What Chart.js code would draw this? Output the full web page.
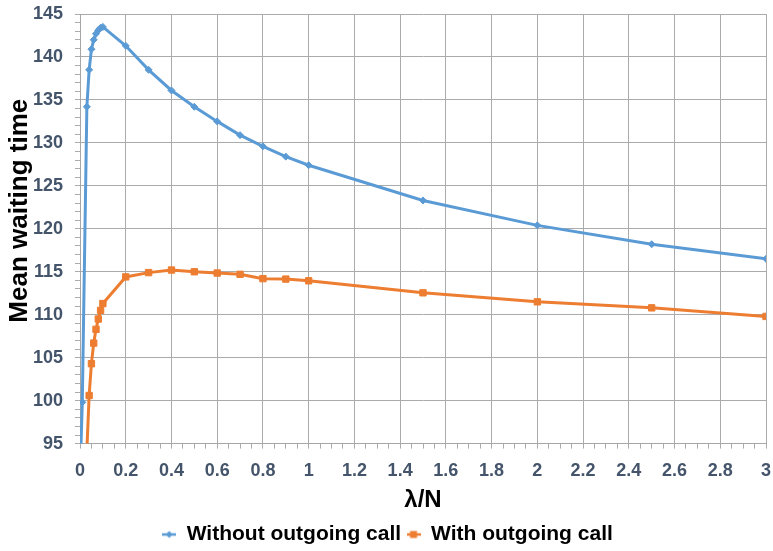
<!DOCTYPE html>
<html>
<head>
<meta charset="utf-8">
<script src="https://cdn.jsdelivr.net/npm/chart.js@4"></script>
<style>
html,body{margin:0;padding:0;background:#fff;}
</style>
</head>
<body>
<canvas id="line-chart" width="773" height="551"></canvas>
<script>
// lambda/N values (x) and mean waiting time for the two cases
var lambdaN = [0, 0.01, 0.03, 0.04, 0.05, 0.06, 0.07, 0.08, 0.09, 0.1, 0.2, 0.3, 0.4, 0.5, 0.6, 0.7, 0.8, 0.9, 1, 1.5, 2, 2.5, 3]
var withoutOutgoing = [91, 99.8, 134.2, 138.5, 140.9, 142.0, 142.7, 143.1, 143.4, 143.5, 141.3, 138.5, 136.1, 134.2, 132.5, 130.9, 129.6, 128.4, 127.4, 123.3, 120.4, 118.2, 116.5]
var withOutgoing = [null, null, 94.2, 100.6, 104.3, 106.7, 108.3, 109.5, 110.5, 111.3, 114.4, 114.9, 115.2, 115.0, 114.85, 114.7, 114.2, 114.15, 113.95, 112.55, 111.5, 110.8, 109.8]

var xTickLabels = [0, 0.2, 0.4, 0.6, 0.8, 1, 1.2, 1.4, 1.6, 1.8, 2, 2.2, 2.4, 2.6, 2.8, 3]
var yTickLabels = [95, 100, 105, 110, 115, 120, 125, 130, 135, 140, 145]

var blue = "#5b9bd5"
var orange = "#ed7d31"
var gridCol = "#ababab"
var fam = "'Liberation Sans', Arial, sans-serif"
var tickFont = {family: fam, size: 18, weight: "bold"}
var tickCol = "#44546a"

function isMajor(v, list){
    for (var i = 0; i < list.length; i++){
        if (Math.abs(v - list[i]) < 1e-6) return true
    }
    return false
}

function toPoints(xs, ys){
    var out = []
    for (var i = 0; i < xs.length; i++){
        out.push({x: xs[i], y: ys[i]})
    }
    return out
}

// little line+marker pictures for the legend
function legendIcon(color, shape){
    var c = document.createElement("canvas")
    c.width = 14; c.height = 10
    var g = c.getContext("2d")
    g.strokeStyle = color; g.fillStyle = color; g.lineWidth = 2.5
    g.beginPath(); g.moveTo(0, 5); g.lineTo(14, 5); g.stroke()
    g.beginPath()
    if (shape == "diamond"){
        g.moveTo(7, 1.5); g.lineTo(10.5, 5); g.lineTo(7, 8.5); g.lineTo(3.5, 5)
    } else {
        g.rect(3.5, 1.5, 7, 7)
    }
    g.closePath(); g.fill()
    return c
}
var icons = [legendIcon(blue, "diamond"), legendIcon(orange, "square")]

new Chart(document.getElementById("line-chart"), {
    type: 'line',
    data: {
        datasets: [{
            label: "Without outgoing call",
            data: toPoints(lambdaN, withoutOutgoing),
            borderColor: blue,
            backgroundColor: blue,
            borderWidth: 3,
            pointStyle: 'rectRot',
            pointRadius: 3.5,
            pointBorderWidth: 1,
            fill: false,
            clip: 0
        }, {
            label: "With outgoing call",
            data: toPoints(lambdaN, withOutgoing),
            borderColor: orange,
            backgroundColor: orange,
            borderWidth: 3,
            pointStyle: 'rect',
            pointRadius: 4.5,
            pointBorderWidth: 1,
            fill: false,
            clip: 0
        }]
    },
    options: {
        responsive: false,
        animation: false,
        layout: {padding: {left: 2, right: 0, top: 0, bottom: -4}},
        plugins: {
            tooltip: {enabled: false},
            legend: {
                position: 'bottom',
                labels: {
                    usePointStyle: true,
                    color: "#000",
                    padding: 5.4,
                    pointStyleWidth: 14,
                    font: {family: fam, size: 21, weight: "bold"},
                    generateLabels: function(chart){
                        var items = Chart.defaults.plugins.legend.labels.generateLabels(chart)
                        items.forEach(function(it, i){ it.pointStyle = icons[i] })
                        return items
                    }
                }
            }
        },
        scales: {
            x: {
                type: 'linear',
                min: 0,
                max: 3,
                afterFit: function(scale){
                    scale.height = 75
                    scale.paddingLeft = 0
                    scale.paddingRight = 7
                },
                ticks: {
                    stepSize: 0.05,
                    autoSkip: false,
                    maxRotation: 0,
                    padding: 12,
                    color: tickCol,
                    font: tickFont,
                    callback: function(v){
                        return isMajor(v, xTickLabels) ? String(Math.round(v * 10) / 10) : ""
                    }
                },
                grid: {
                    tickLength: 5,
                    lineWidth: 1,
                    color: function(ctx){
                        return ctx.tick && isMajor(ctx.tick.value, xTickLabels) ? gridCol : "rgba(0,0,0,0)"
                    },
                    tickColor: gridCol
                },
                border: {color: "#a6a6a6"},
                title: {
                    display: true,
                    text: "λ/N",
                    color: "#000",
                    padding: {top: 0, bottom: 4},
                    font: {family: fam, size: 24, weight: "bold"}
                }
            },
            y: {
                min: 95,
                max: 145,
                afterFit: function(scale){
                    scale.width = 78
                    scale.paddingTop = 14
                    scale.paddingBottom = 0
                },
                ticks: {
                    stepSize: 1,
                    autoSkip: false,
                    padding: 12,
                    color: tickCol,
                    font: tickFont,
                    callback: function(v){
                        return isMajor(v, yTickLabels) ? String(v) : ""
                    }
                },
                grid: {
                    tickLength: 5,
                    lineWidth: 1,
                    color: function(ctx){
                        return ctx.tick && isMajor(ctx.tick.value, yTickLabels) ? gridCol : "rgba(0,0,0,0)"
                    },
                    tickColor: gridCol
                },
                border: {color: "#a6a6a6"},
                title: {
                    display: true,
                    text: "     Mean waiting time",
                    color: "#000",
                    padding: {top: 2, bottom: 2},
                    font: {family: fam, size: 26, weight: "bold"}
                }
            }
        }
    }
})
</script>
</body>
</html>
